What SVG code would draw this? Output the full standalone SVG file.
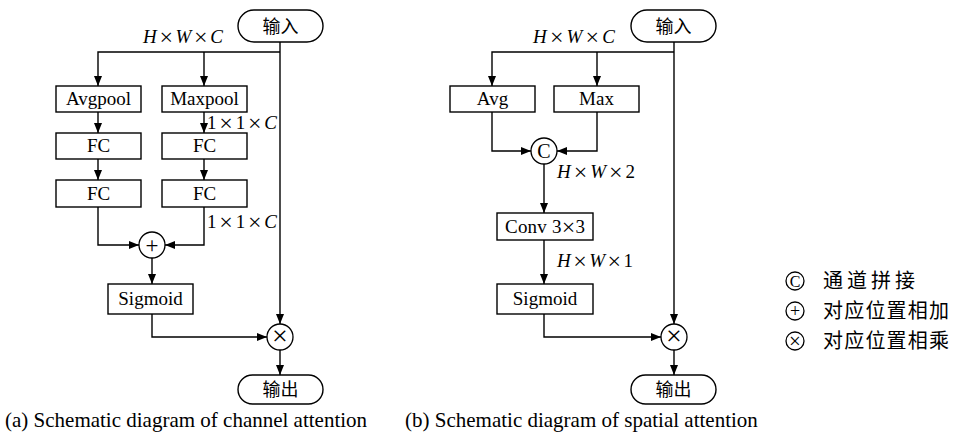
<svg xmlns="http://www.w3.org/2000/svg" width="954" height="438" viewBox="0 0 954 438">
<defs>
<marker id="ah" markerWidth="10" markerHeight="8" refX="10" refY="4" orient="auto" markerUnits="userSpaceOnUse">
<path d="M0,0 L10,4 L0,8 z" fill="#000"/>
</marker>
</defs>
<style>
.box{fill:#fff;stroke:#000;stroke-width:1.4}
.pill{fill:#fff;stroke:#000;stroke-width:1.4}
.op{fill:#fff;stroke:#000;stroke-width:1.3}
.arr{fill:none;stroke:#000;stroke-width:1.4;marker-end:url(#ah)}
.lbl{font-family:"Liberation Serif","Times New Roman",serif;font-size:19px;fill:#000;text-anchor:middle}
.dim{font-family:"Liberation Serif","Times New Roman",serif;font-size:19px;fill:#000}
.it{font-style:italic}
.x{font-size:24px;baseline-shift:-2px}
.cn{font-family:"Noto Sans CJK SC","Noto Sans CJK JP",sans-serif;font-size:18px;fill:#000;text-anchor:middle}
.lg{font-family:"Noto Sans CJK SC","Noto Sans CJK JP",sans-serif;font-size:20px;fill:#000}
.cap{font-family:"Liberation Serif","Times New Roman",serif;font-size:21px;fill:#000}
.sym{font-family:"Liberation Serif","Times New Roman",serif;fill:#000;text-anchor:middle}
</style>

<g id="connectors">
<path class="arr" d="M280,42 V324"/>
<path class="arr" d="M280,52 H98 V86"/>
<path class="arr" d="M204,52 V86"/>
<path class="arr" d="M98,112 V133"/>
<path class="arr" d="M204,112 V133"/>
<path class="arr" d="M98,159 V180"/>
<path class="arr" d="M204,159 V180"/>
<path class="arr" d="M98,207 V245 H139"/>
<path class="arr" d="M204,207 V245 H165"/>
<path class="arr" d="M152,258 V284"/>
<path class="arr" d="M152,314 V337 H267"/>
<path class="arr" d="M280,350 V375"/>
<path class="arr" d="M674,42 V324"/>
<path class="arr" d="M674,52 H492 V86"/>
<path class="arr" d="M597,52 V86"/>
<path class="arr" d="M492,112 V151 H531"/>
<path class="arr" d="M597,112 V151 H557"/>
<path class="arr" d="M544,164 V213"/>
<path class="arr" d="M544,240 V284"/>
<path class="arr" d="M544,314 V337 H661"/>
<path class="arr" d="M674,350 V375"/>
</g>

<g id="a_input"><rect class="pill" x="238" y="10" width="85" height="32" rx="16"/><text class="cn" x="280.5" y="32.5">输入</text></g>
<g id="a_dim1"><text class="dim" x="143" y="43" textLength="80" lengthAdjust="spacing"><tspan class="it">H</tspan><tspan class="x">×</tspan><tspan class="it">W</tspan><tspan class="x">×</tspan><tspan class="it">C</tspan></text></g>
<g id="a_avgpool"><rect class="box" x="56" y="86" width="85" height="26"/><text class="lbl" x="98.5" y="105">Avgpool</text></g>
<g id="a_maxpool"><rect class="box" x="162" y="86" width="85" height="26"/><text class="lbl" x="204.5" y="105">Maxpool</text></g>
<g id="a_dim2"><text class="dim" x="207" y="129" font-size="18" textLength="70" lengthAdjust="spacing">1<tspan class="x">×</tspan>1<tspan class="x">×</tspan><tspan class="it">C</tspan></text></g>
<g id="a_fc1"><rect class="box" x="56" y="133" width="85" height="26"/><text class="lbl" x="98.5" y="152">FC</text></g>
<g id="a_fc2"><rect class="box" x="162" y="133" width="85" height="26"/><text class="lbl" x="204.5" y="152">FC</text></g>
<g id="a_fc3"><rect class="box" x="56" y="180" width="85" height="27"/><text class="lbl" x="98.5" y="200">FC</text></g>
<g id="a_fc4"><rect class="box" x="162" y="180" width="85" height="27"/><text class="lbl" x="204.5" y="200">FC</text></g>
<g id="a_dim3"><text class="dim" x="207" y="228" textLength="70" lengthAdjust="spacing">1<tspan class="x">×</tspan>1<tspan class="x">×</tspan><tspan class="it">C</tspan></text></g>
<g id="a_add"><circle class="op" cx="152" cy="245" r="13"/><text class="sym" x="152" y="252.5" font-size="23">+</text></g>
<g id="a_sigmoid"><rect class="box" x="108" y="284" width="85" height="30"/><text class="lbl" x="150.5" y="305">Sigmoid</text></g>
<g id="a_mul"><circle class="op" cx="280" cy="337" r="13"/><text class="sym" x="280" y="345" font-size="28">×</text></g>
<g id="a_output"><rect class="pill" x="238" y="375" width="85" height="29" rx="14.5"/><text class="cn" x="280.5" y="396">输出</text></g>
<g id="a_caption"><text class="cap" x="5" y="427">(a) Schematic diagram of channel attention</text></g>

<g id="b_input"><rect class="pill" x="631" y="10" width="85" height="32" rx="16"/><text class="cn" x="673.5" y="32.5">输入</text></g>
<g id="b_dim1"><text class="dim" x="533" y="43" textLength="82" lengthAdjust="spacing"><tspan class="it">H</tspan><tspan class="x">×</tspan><tspan class="it">W</tspan><tspan class="x">×</tspan><tspan class="it">C</tspan></text></g>
<g id="b_avg"><rect class="box" x="450" y="86" width="85" height="26"/><text class="lbl" x="492.5" y="105">Avg</text></g>
<g id="b_max"><rect class="box" x="554" y="86" width="85" height="26"/><text class="lbl" x="596.5" y="105">Max</text></g>
<g id="b_concat"><circle class="op" cx="544" cy="151" r="13"/><text class="sym" x="544" y="158" font-size="20">C</text></g>
<g id="b_dim2"><text class="dim" x="557" y="178" textLength="78" lengthAdjust="spacing"><tspan class="it">H</tspan><tspan class="x">×</tspan><tspan class="it">W</tspan><tspan class="x">×</tspan>2</text></g>
<g id="b_conv"><rect class="box" x="497" y="213" width="96" height="27"/><text class="lbl" x="545" y="233" textLength="80" lengthAdjust="spacing">Conv 3<tspan class="x">×</tspan>3</text></g>
<g id="b_dim3"><text class="dim" x="557" y="267" textLength="76" lengthAdjust="spacing"><tspan class="it">H</tspan><tspan class="x">×</tspan><tspan class="it">W</tspan><tspan class="x">×</tspan>1</text></g>
<g id="b_sigmoid"><rect class="box" x="497" y="284" width="96" height="30"/><text class="lbl" x="545" y="305">Sigmoid</text></g>
<g id="b_mul"><circle class="op" cx="674" cy="337" r="13"/><text class="sym" x="674" y="345" font-size="28">×</text></g>
<g id="b_output"><rect class="pill" x="631" y="375" width="85" height="29" rx="14.5"/><text class="cn" x="673.5" y="396">输出</text></g>
<g id="b_caption"><text class="cap" x="405" y="427">(b) Schematic diagram of spatial attention</text></g>

<g id="legend">
<g id="lg_concat"><circle class="op" cx="795" cy="281" r="9"/><text class="sym" x="795" y="287" font-size="16">C</text><text class="lg" x="823" y="288" textLength="92" lengthAdjust="spacing">通道拼接</text></g>
<g id="lg_add"><circle class="op" cx="795" cy="311" r="9"/><text class="sym" x="795" y="317" font-size="18">+</text><text class="lg" x="823" y="318" textLength="126" lengthAdjust="spacing">对应位置相加</text></g>
<g id="lg_mul"><circle class="op" cx="795" cy="341" r="9"/><text class="sym" x="795" y="347.5" font-size="21">×</text><text class="lg" x="823" y="348" textLength="126" lengthAdjust="spacing">对应位置相乘</text></g>
</g>
</svg>
